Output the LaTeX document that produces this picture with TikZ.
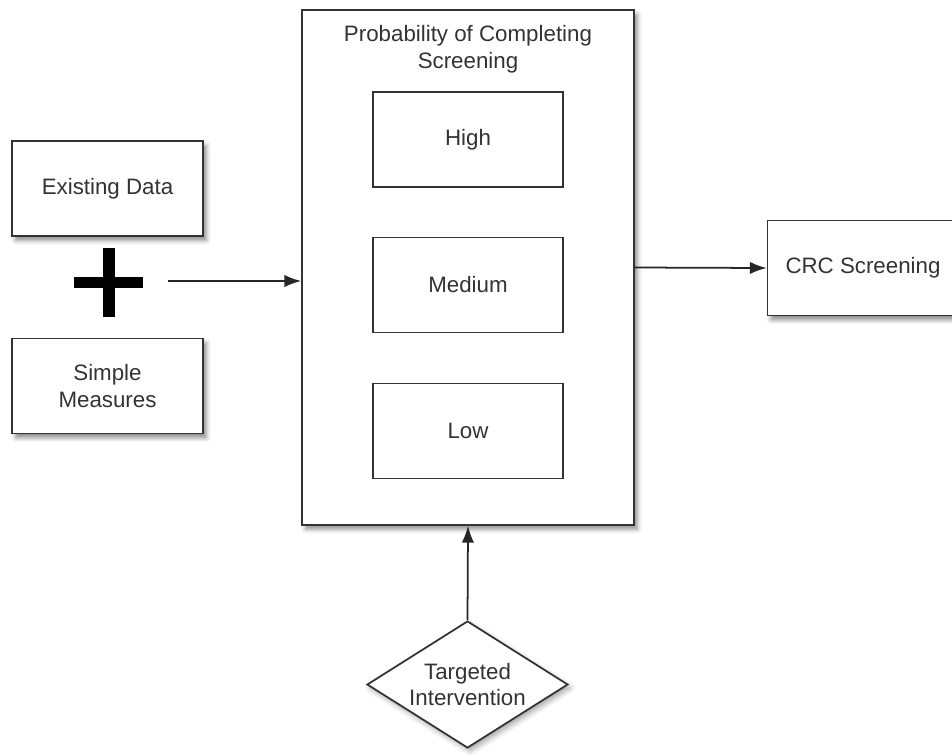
\documentclass[tikz,border=0pt]{standalone}
\usepackage{fontspec}
\setmainfont{Liberation Sans}
\usetikzlibrary{shapes.geometric,shadows.blur,arrows.meta}

\begin{document}
\begin{tikzpicture}[x=0.02cm, y=-0.02cm, line width=1pt,
                      every node/.style={font=\fontsize{12.7}{15.3}\selectfont, text=black!80},
                      input box/.style={rectangle, draw=black!80, fill=white, minimum width=3.82cm, minimum height=1.9cm, align=center,
                                        blur shadow={shadow xshift=2pt, shadow yshift=-2.5pt, shadow blur radius=2.5pt, shadow opacity=45}},
                      level box/.style={rectangle, draw=black!80, fill=white, minimum width=3.8cm, minimum height=1.9cm},
                      link/.style={draw=black!85, -{Latex[length=9.5pt, width=7pt]}}]

    \useasboundingbox (0,0) rectangle (952,754);

    \node[input box] (existing) at (107.5,188.5) {Existing Data};
    \node[input box] (simple)   at (107.5,386)   {Simple\\Measures};

    \node[input box, minimum width=6.64cm, minimum height=10.3cm] (prob) at (468,267.5) {};
    \node[anchor=north, align=center] (title) at (468,19) {Probability of Completing\\Screening};

    \node[level box] (high)   at (468,139.5) {High};
    \node[level box] (medium) at (468,285)   {Medium};
    \node[level box] (low)    at (468,431)   {Low};

    \node[input box, minimum width=3.82cm] (crc) at (863,268) {CRC Screening};

    \node[diamond, aspect=1.58, draw=black!80, fill=white, inner sep=0pt, minimum width=4.02cm, minimum height=2.54cm, align=center,
          blur shadow={shadow xshift=1.5pt, shadow yshift=-2pt, shadow blur radius=3pt, shadow opacity=35}]
          (target) at (467.5,684.5) {Targeted\\Intervention};

    % plus sign
    \fill[black] (74,276.5) rectangle (143,287.5);
    \fill[black] (103,248) rectangle (115,317);
    \coordinate (plus) at (168,281);

    \path[link] (plus) -- (plus -| prob.west);
    \path[link] (prob.east) -- (crc.west);
    \path[link] (target.north) -- (prob.south);
  \end{tikzpicture}
\end{document}
